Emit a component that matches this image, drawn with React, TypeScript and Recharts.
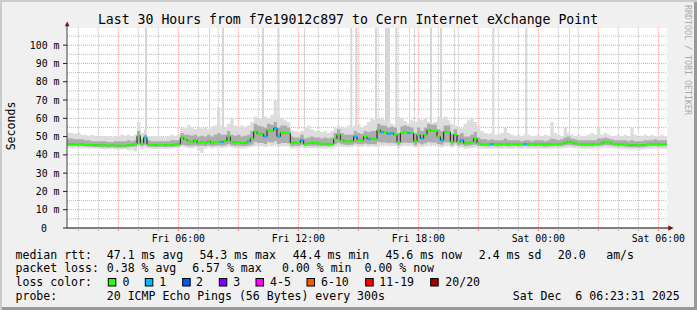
import React from 'react';
import { ComposedChart, Area, Line, XAxis, YAxis, CartesianGrid, ReferenceArea } from 'recharts';

const START_HOUR = 26 / 60; // Fri 00:26
const STEP_HOURS = 1 / 6; // 10 minute steps
const Y_TOP = 109.4;

const medianMs = [
  45.8,45.8,45.9,45.7,45.8,45.6,45.6,45.4,45.3,45.3,
  45.2,45.2,45.1,45.2,45.1,45.0,45.1,45.1,45.3,45.4,
  46.0,50.5,46.2,49.5,45.6,45.4,45.3,45.5,45.4,45.3,
  45.4,45.5,45.6,45.8,49.5,48.5,47.5,47.0,48.0,46.5,
  47.0,46.8,47.5,46.5,47.0,47.3,47.0,47.5,50.0,47.3,
  46.8,47.0,46.5,46.6,47.3,49.0,52.8,51.5,51.5,50.0,
  53.5,53.0,54.6,50.0,52.2,52.2,52.0,46.4,46.8,46.5,
  48.0,46.0,46.5,46.6,46.5,46.3,46.0,46.2,45.8,46.0,
  48.5,51.0,48.0,47.5,47.3,47.5,50.0,48.0,48.0,50.0,
  48.5,49.0,48.5,53.7,52.4,52.5,51.5,52.0,51.0,47.0,
  52.0,52.5,52.0,52.0,47.5,51.0,49.0,51.0,53.7,53.0,
  53.0,50.0,48.0,52.7,52.5,47.2,51.0,47.0,48.0,46.4,
  46.5,47.0,49.0,46.4,46.0,45.9,45.8,46.0,45.9,45.8,
  45.9,46.0,45.8,45.9,46.0,45.8,45.9,46.0,45.8,45.9,
  45.8,45.9,45.8,45.7,45.8,45.9,46.0,45.9,46.2,46.6,
  47.3,46.8,46.3,46.0,45.9,45.8,45.9,45.8,46.0,46.0,
  46.4,47.0,46.8,46.3,46.0,45.8,45.9,45.7,45.5,45.3,
  45.3,45.2,45.3,45.6,45.9,45.9,46.0,45.8,45.9,45.9,
];

const maxMs = [
  52,52,51.5,52,51,51,50.5,51,50.5,50,
  50,50.5,50,49.5,50,50.5,51,50.5,51,50,
  51,58,52,54,50.5,50,50,50.5,50,49.5,
  50,51,50.5,51,55,54.5,56.5,55,54,55,
  54.5,55,54,55.5,56,66,56,55,57,60,
  56,55.5,56,55,56,58,61,60,59.5,61,
  60,62,70,61,60,59,58,53.5,53,52.5,
  53,55,56,54,53,53.5,52.5,53,52,53,
  55,56,55,54.5,56,55,56,57,55,56,
  58,60,59,60,60,59,58,57,56,61,
  60,58.5,57,59,58,60,59,60,58,57.5,
  58,61,60,61,59,57,56,55,54.5,57,
  59,60,58,56,53,52,51.5,52,51,51.5,
  52,55,52,51,50.5,51,50,51.5,51,50,
  50.5,51,50,51,50.5,58,52,51,50,55,
  52,51,50.5,51,50,50.5,51,52,51,55,
  51,52,51,50,50.5,51,50,51,50,55,
  51,50,50.5,51,50,51,50,50.5,51,50,
];

const hiMs = [
  49,49,48.5,48.5,48.5,48,48,47.5,47.5,47.5,
  47.5,47.5,47,47,47.5,47.5,47.5,47.5,48,47.5,
  48,53,48.5,51,48,47.5,47.5,47.5,47.5,47.5,
  47.5,48,48,48,52,51,51,50.5,51,50,
  50.5,50,51,50,51,52,51,51,53,51,
  50.5,51,50,50.5,51,53,57,56,55.5,55,
  57,56.5,58,55,56,56,55,50,49.5,49.5,
  51,49,49.5,50,49.5,49.5,49,49.5,49,49.5,
  52,54,52,51,51,51,53,52,51.5,53,
  52.5,53,53,57,56,56,55,55.5,55,52,
  55.5,56,55.5,55,52,55,53,55,57,56.5,
  56.5,54,53,56,56,51.5,54,51,52,50,
  50,51,52.5,49.5,48.5,48.5,48,48.5,48,48,
  48,49,48,48,48,48,47.5,48,48,47.5,
  48,48,48,47.5,48,49,48.5,48,48.5,49.5,
  50,49,48.5,48,48,48,48,48,48,49,
  49,49.5,49,48.5,48,48,48,48,47.5,48,
  47.5,47.5,47.5,48,48,48,48.5,48,48,48,
];

const loMs = [
  44.8,44.8,44.9,44.7,44.8,44.6,44.6,44.4,44.3,44.3,
  44.2,44.2,44.1,44.2,44.1,44.0,44.1,44.1,44.3,44.4,
  44.6,45.5,44.8,45.5,44.6,44.4,44.3,44.5,44.4,44.3,
  44.4,44.5,44.6,44.7,45.5,45.3,45,45,45.2,44.8,
  45,44.9,45.2,44.8,45,45.1,45,45.2,46,45.1,
  45,45,44.8,44.9,45.1,45.6,47,46.5,46.5,46,
  47,46.8,47.5,46,46.5,46.5,46.3,44.9,45,44.9,
  45.5,44.8,45,45,45,44.9,44.8,44.9,44.7,44.8,
  45.8,46.5,45.8,45.5,45.4,45.5,46.2,45.8,45.8,46.2,
  45.8,46,45.8,47,46.8,46.8,46.5,46.6,46.3,45.2,
  46.5,46.8,46.5,46.5,45.3,46.3,45.8,46.3,47,46.8,
  46.8,46,45.5,46.8,46.8,45.2,46.3,45.1,45.5,44.9,
  45,45.2,45.6,44.9,44.8,44.7,44.6,44.8,44.7,44.6,
  44.7,44.8,44.6,44.7,44.8,44.6,44.7,44.8,44.6,44.7,
  44.6,44.7,44.6,44.5,44.6,44.7,44.8,44.7,44.9,45.2,
  45.6,45.3,45,44.8,44.7,44.6,44.7,44.6,44.8,44.8,
  45,45.4,45.3,45,44.8,44.6,44.7,44.5,44.3,44.2,
  44.2,44.1,44.2,44.4,44.7,44.7,44.8,44.6,44.7,44.7,
];

const minMs = [
  43.8,43.5,43.8,43.6,43.5,43.6,43.4,43.5,43.2,43.3,
  43.2,43,43.1,43.2,43,42.8,43,43.1,42.5,42.8,
  42,44,43,44,43.5,43.3,43.2,43.4,43.3,43.2,
  43.4,43.5,43.6,43.6,44.5,44.2,43.8,43.5,44,42.5,
  41,43.5,44,43.5,44,44,43.8,44,44.5,44,
  43.8,43.8,43.5,43.6,44,44.5,45,45,45,44.5,
  45.5,45,45.5,44.5,45,44.8,44.5,43.5,43.8,43.6,
  44,43.5,43.8,43.8,43.7,43.5,43.5,43.6,43.5,43.4,
  44.5,45,44.5,44.3,44.2,44.2,44.8,44.5,44.5,44.8,
  44.5,44.7,44.5,45.5,45.2,45.2,45,45,44.8,43.8,
  45,45.2,45,45,44,44.8,44.5,44.8,45.5,45.2,
  45.2,44.5,44,45.2,45.2,44,44.8,43.8,44,43.5,
  43.6,43.8,44,43.5,43.5,43.4,43.3,43.5,43.4,43.3,
  43.4,43.5,43.3,43.4,43.5,43.3,43.4,43.5,43.3,43.4,
  43.3,43.4,43.3,43.2,43.3,43.4,43.5,43.4,43.6,43.8,
  44,43.9,43.6,43.5,43.4,43.3,43.4,43.3,43.5,43.5,
  43.6,44,43.9,43.6,43.5,43.3,43.4,43.2,43,42.9,
  42.9,42.8,42.9,43.1,43.4,43.4,43.5,43.3,43.4,43.4,
];

// steps (10 min) where 1 of 20 pings was lost
const oneLossSteps = [23, 46, 54, 59, 62, 63, 70, 86, 90, 94, 96, 97, 102, 106, 112, 118, 127, 137];

// very high max-rtt outliers (hours since Fri 00:00, and their length in minutes)
const spikeStartHours = [4.333, 7.533, 8.183, 10.183, 10.958, 12.283, 14.6, 14.85, 15.833, 16.333, 16.85, 17.533, 17.783, 18.583, 19.083, 19.783, 21.7, 23.35, 25.533];
const spikeMinutes = [6, 3, 6, 6, 6, 3, 6, 6, 6, 15, 6, 3, 3, 6, 6, 3, 6, 6, 3];

const yTicks = [0, 10, 20, 30, 40, 50, 60, 70, 80, 90, 100];
const yMinorGrid = [5, 15, 25, 35, 45, 55, 65, 75, 85, 95, 105];
const yMajorGrid = [10, 20, 30, 40, 50, 60, 70, 80, 90, 100];
const xHourTicks = Array.from({ length: 30 }, (_, k) => k + 1);
const xTickHours = [6, 12, 18, 24, 30];
const xTickLabels = ['Fri 06:00', 'Fri 12:00', 'Fri 18:00', 'Sat 00:00', 'Sat 06:00'];

const lossLabels = ['0', '1', '2', '3', '4-5', '6-10', '11-19', '20/20'];
const lossColors = ['#26ff00', '#00b8ff', '#0059ff', '#7e00ff', '#ff00ff', '#ff5500', '#ff0000', '#a10000'];

const FONT = "'DejaVu Sans Mono', monospace";

type Row = { t: number; outer: number[]; inner: number[]; med: number; g: number | null; b: number | null };
const rows: Row[] = [];
medianMs.forEach((m, i) => {
  const t0 = START_HOUR + i * STEP_HOURS;
  const lossOne = oneLossSteps.includes(i);
  const base = { outer: [minMs[i], maxMs[i]], inner: [loMs[i], hiMs[i]], med: m };
  const g = lossOne ? null : m;
  const b = lossOne ? m : null;
  rows.push({ t: t0, ...base, g, b });
  rows.push({ t: t0 + STEP_HOURS - 0.001, ...base, g, b });
  rows.push({ t: t0 + STEP_HOURS - 0.0005, ...base, g: null, b: null });
});

const spikes = spikeStartHours.map((s, k) => {
  const idx = Math.max(0, Math.min(maxMs.length - 1, Math.floor((s - START_HOUR) / STEP_HOURS)));
  return { x1: s, x2: s + spikeMinutes[k] / 60, y1: maxMs[idx] - 1 };
});

const YTick = (props: any) => {
  const { x, y, payload } = props;
  const v = payload.value;
  return (
    <text x={v === 0 ? x - 16 : x - 3.5} y={y} dy="0.36em" textAnchor="end" fontFamily={FONT} fontSize={9.85} fill="#000">
      {v === 0 ? '0' : `${v} m`}
    </text>
  );
};

const XTick = (props: any) => {
  const { x, y, payload } = props;
  const h = payload.value;
  const major = h % 3 === 0;
  const li = xTickHours.indexOf(h);
  return (
    <g>
      <line x1={x} x2={x} y1={y} y2={y + 3} stroke={major ? '#f08080' : '#b0b0b0'} strokeWidth={1} />
      {li >= 0 && (
        <text x={x} y={y + 13.5} textAnchor="middle" fontFamily={FONT} fontSize={9.85} fill="#000">
          {xTickLabels[li]}
        </text>
      )}
    </g>
  );
};

const T = (p: { x: number; y: number; children: React.ReactNode; size?: number; anchor?: string }) => (
  <text x={p.x} y={p.y} fontFamily={FONT} fontSize={p.size ?? 11.56} fill="#000" textAnchor={p.anchor as any} style={{ whiteSpace: 'pre' }}>
    {p.children}
  </text>
);

export default function App() {
  const L1 = 258.5, L2 = 272.4, L3 = 286.3, L4 = 300.2;
  const boxX = [108.3, 145.3, 182.7, 219.3, 256, 307, 365.7, 430.7];
  const labX = [122.6, 159.3, 196, 233.3, 270, 321, 379.3, 445.3];
  return (
    <div style={{ position: 'fixed', left: 0, top: 0, width: 697, height: 310, background: '#f0f0f0', boxShadow: 'inset 2px 2px 0 #cbcbcb, inset -3px -3px 0 #999999', overflow: 'hidden' }}>
      <div style={{ position: 'absolute', left: 67, top: 28, width: 600, height: 200, background: '#ffffff' }} />
      <div style={{ position: 'absolute', left: 0, top: 0 }}>
        <ComposedChart width={697} height={310} data={rows} margin={{ top: 28, right: 30, bottom: 52, left: 17 }}>
          <CartesianGrid stroke="#bcbcbc" strokeDasharray="1 1" horizontalValues={yMinorGrid} verticalValues={xHourTicks.filter((h) => h % 3 !== 0)} />
          <CartesianGrid stroke="#f2a0a0" strokeDasharray="1 1" horizontalValues={yMajorGrid} verticalValues={xHourTicks.filter((h) => h % 3 === 0)} />
          <XAxis
            dataKey="t"
            type="number"
            domain={[START_HOUR, START_HOUR + 30]}
            allowDataOverflow
            ticks={xHourTicks}
            interval={0}
            tick={<XTick />}
            tickLine={false}
            tickSize={0}
            tickMargin={0}
            height={30}
            axisLine={{ stroke: '#000000' }}
          />
          <YAxis
            type="number"
            domain={[0, Y_TOP]}
            allowDataOverflow
            ticks={yTicks}
            interval={0}
            tick={<YTick />}
            tickSize={4}
            tickMargin={0}
            tickLine={{ stroke: '#202020' }}
            width={50}
            axisLine={{ stroke: '#404040' }}
          />
          {spikes.map((s, k) => (
            <ReferenceArea key={k} x1={s.x1} x2={s.x2} y1={s.y1} y2={Y_TOP} fill="#d6d6d6" fillOpacity={1} stroke="none" ifOverflow="hidden" />
          ))}
          <Area type="stepAfter" dataKey="outer" stroke="none" fill="#dddddd" fillOpacity={1} isAnimationActive={false} dot={false} activeDot={false} />
          <Area type="stepAfter" dataKey="inner" stroke="none" fill="#adadad" fillOpacity={1} isAnimationActive={false} dot={false} activeDot={false} />
          <Line type="linear" dataKey="med" stroke="#1a1a1a" strokeWidth={1} dot={false} activeDot={false} isAnimationActive={false} />
          <Line type="linear" dataKey="g" stroke="#26ff00" strokeWidth={2} dot={false} activeDot={false} isAnimationActive={false} connectNulls={false} />
          <Line type="linear" dataKey="b" stroke="#00b8ff" strokeWidth={2} dot={false} activeDot={false} isAnimationActive={false} connectNulls={false} />
        </ComposedChart>
      </div>
      <svg width={697} height={310} style={{ position: 'absolute', left: 0, top: 0, pointerEvents: 'none' }}>
        <line x1={67} y1={28} x2={67} y2={24} stroke="#404040" />
        <polygon points="64.8,26.2 69.6,26.2 67.2,21.5" fill="#801010" />
        <line x1={667} y1={228} x2={669} y2={228} stroke="#000" />
        <polygon points="668.3,225.4 668.3,230.8 673.6,228.1" fill="#801010" />
        <T x={348} y={23.6} size={13.2} anchor="middle">Last 30 Hours from f7e19012c897 to Cern Internet eXchange Point</T>
        <text x={15} y={126} transform="rotate(-90 15 126)" textAnchor="middle" fontFamily={FONT} fontSize={11.56} fill="#000">Seconds</text>
        <text x={685} y={5} transform="rotate(90 685 5)" fontFamily={FONT} fontSize={8.3} fill="#ababab">RRDTOOL / TOBI OETIKER</text>
        <T x={15.5} y={L1}>median rtt:</T>
        <T x={106.8} y={L1}>47.1 ms avg</T>
        <T x={199.5} y={L1}>54.3 ms max</T>
        <T x={292.8} y={L1}>44.4 ms min</T>
        <T x={385.5} y={L1}>45.6 ms now</T>
        <T x={478.8} y={L1}>2.4 ms sd</T>
        <T x={557.8} y={L1}>20.0</T>
        <T x={606.2} y={L1}>am/s</T>

        <T x={15.5} y={L2}>packet loss:</T>
        <T x={106.8} y={L2}>0.38 % avg</T>
        <T x={192.2} y={L2}>6.57 % max</T>
        <T x={282} y={L2}>0.00 % min</T>
        <T x={364.5} y={L2}>0.00 % now</T>

        <T x={15.5} y={L3}>loss color:</T>
        {lossLabels.map((l, k) => (
          <g key={l}>
            <rect x={boxX[k]} y={278.5} width={7.5} height={7.5} fill={lossColors[k]} stroke="#000" strokeWidth={1} />
            <T x={labX[k]} y={L3}>{l}</T>
          </g>
        ))}

        <T x={15.5} y={L4}>probe:</T>
        <T x={106.8} y={L4}>20 ICMP Echo Pings (56 Bytes) every 300s</T>
        <T x={512.8} y={L4}>Sat Dec  6 06:23:31 2025</T>
      </svg>
    </div>
  );
}
